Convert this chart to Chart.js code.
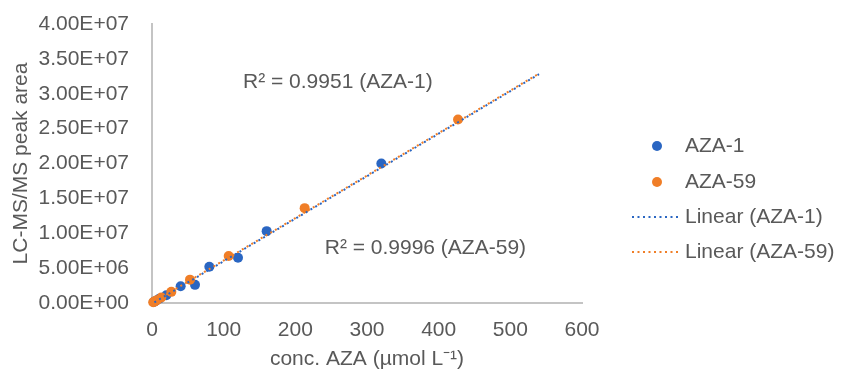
<!DOCTYPE html>
<html><head><meta charset="utf-8">
<script src="https://cdn.jsdelivr.net/npm/chart.js@4/dist/chart.umd.min.js"></script>
<style>html,body{margin:0;padding:0;background:#fff}</style>
</head><body>
<canvas id="c" width="842" height="372"></canvas>
<script>
// ---- data ----
const aza1Conc = [320, 160, 120, 80, 60, 40, 20, 10, 5, 2.5];
const aza1Area = [2.0e7, 1.03e7, 6.5e6, 5.2e6, 2.6e6, 2.4e6, 1.1e6, 6.0e5, 3.0e5, 1.5e5];
const aza59Conc = [427, 213, 107, 53, 27, 13, 6.7, 3.3, 1.7];
const aza59Area = [2.63e7, 1.36e7, 6.75e6, 3.35e6, 1.6e6, 8.0e5, 4.0e5, 2.0e5, 1.0e5];
const trendConc = [0, 540];
const trendAza1 = [-1.0e5, 3.28e7];
const trendAza59 = [0, 3.29e7];
const seriesLabels = ['AZA-1', 'AZA-59', 'Linear (AZA-1)', 'Linear (AZA-59)'];
const r2Labels = ['R\u00B2 = 0.9951 (AZA-1)', 'R\u00B2 = 0.9996 (AZA-59)'];
const xTicks = [0, 100, 200, 300, 400, 500, 600];
const yTicks = [0, 5e6, 1e7, 1.5e7, 2e7, 2.5e7, 3e7, 3.5e7, 4e7];

const BLUE = '#2A66C2';
const ORANGE = '#F07E27';
const TXT = '#595959';
const FONT = "'Liberation Sans', Arial, sans-serif";

const pts = (xs, ys) => xs.map((x, i) => ({x, y: ys[i]}));

function fmtExp(v) {
  const [m, e] = v.toExponential(2).split('e');
  const n = parseInt(e, 10);
  return m + 'E' + (n < 0 ? '-' : '+') + String(Math.abs(n)).padStart(2, '0');
}

const annot = {
  id: 'annot',
  afterDraw(chart) {
    const {ctx, scales: {x, y}} = chart;
    ctx.save();
    ctx.font = '21px ' + FONT;
    ctx.fillStyle = TXT;
    ctx.textBaseline = 'middle';
    ctx.textAlign = 'left';
    const pos = [[127, 3.16e7], [241, 7.9e6]];
    r2Labels.forEach((t, i) => ctx.fillText(t, x.getPixelForValue(pos[i][0]), y.getPixelForValue(pos[i][1])));
    // legend
    const ds = chart.data.datasets;
    const rows = [146, 182, 217, 252];
    [0, 1, 2, 3].forEach((di, r) => {
      const d = ds[di];
      const yy = rows[r];
      if (d.showLine) {
        ctx.strokeStyle = d.borderColor;
        ctx.lineWidth = 2;
        ctx.setLineDash([2, 3.5]);
        ctx.beginPath(); ctx.moveTo(632, yy); ctx.lineTo(680, yy); ctx.stroke();
        ctx.setLineDash([]);
      } else {
        ctx.fillStyle = d.backgroundColor;
        ctx.beginPath(); ctx.arc(657, yy, 5, 0, Math.PI * 2); ctx.fill();
      }
      ctx.fillStyle = TXT;
      ctx.fillText(d.label, 685, yy);
    });
    ctx.restore();
  }
};

new Chart(document.getElementById('c'), {
  type: 'scatter',
  data: {
    datasets: [
      {label: seriesLabels[0], data: pts(aza1Conc, aza1Area), backgroundColor: BLUE, borderColor: BLUE, pointRadius: 5, pointBorderWidth: 0, order: 3, clip: false},
      {label: seriesLabels[1], data: pts(aza59Conc, aza59Area), backgroundColor: ORANGE, borderColor: ORANGE, pointRadius: 5, pointBorderWidth: 0, order: 2, clip: false},
      {label: seriesLabels[2], data: pts(trendConc, trendAza1), showLine: true, borderColor: BLUE, backgroundColor: BLUE, borderWidth: 2, borderDash: [2, 3.5], borderDashOffset: 2.75, pointRadius: 0, order: 1, clip: false},
      {label: seriesLabels[3], data: pts(trendConc, trendAza59), showLine: true, borderColor: ORANGE, backgroundColor: ORANGE, borderWidth: 2, borderDash: [2, 3.5], pointRadius: 0, order: 0, clip: false}
    ]
  },
  options: {
    responsive: false,
    animation: false,
    devicePixelRatio: 1,
    layout: {padding: {left: 0, right: 260, top: 24, bottom: 0}},
    plugins: {legend: {display: false}, tooltip: {enabled: false}},
    scales: {
      x: {
        type: 'linear', min: 0, max: 600,
        afterBuildTicks: s => { s.ticks = xTicks.map(v => ({value: v})); },
        afterFit: s => { s.height = 69; },
        grid: {display: false, drawTicks: false},
        border: {display: true, color: '#C4C4C4', width: 2},
        ticks: {padding: 15, color: TXT, font: {family: FONT, size: 21}},
        title: {display: true, text: 'conc. AZA (\u00B5mol L\u207B\u00B9)', color: TXT, font: {family: FONT, size: 21}, padding: {top: 0, bottom: 0}}
      },
      y: {
        type: 'linear', min: 0, max: 4e7,
        afterBuildTicks: s => { s.ticks = yTicks.map(v => ({value: v})); },
        afterFit: s => { s.width = 152; s.paddingTop = 0; s.paddingBottom = 0; },
        grid: {display: false, drawTicks: false},
        border: {display: true, color: '#C4C4C4', width: 2},
        ticks: {padding: 23, color: TXT, font: {family: FONT, size: 21}, callback: v => fmtExp(v)},
        title: {display: true, text: 'LC-MS/MS peak area', color: TXT, font: {family: FONT, size: 21}, padding: {top: 9, bottom: 0}}
      }
    }
  },
  plugins: [annot]
});
</script>
</body></html>
